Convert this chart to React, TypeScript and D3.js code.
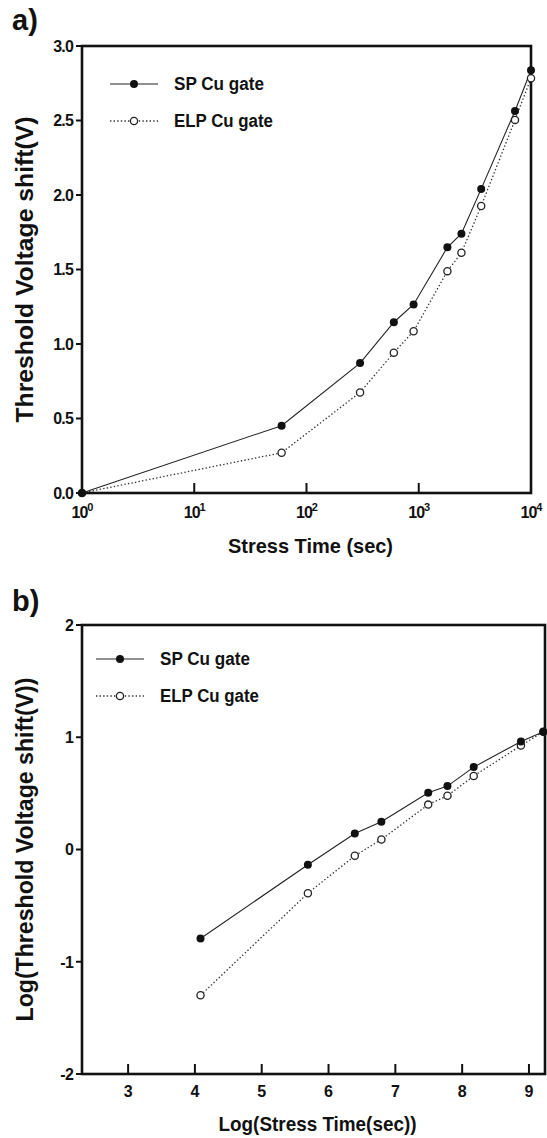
import React from "react";
import * as d3 from "d3";

// ---------- data ----------
const seriesNames = ["SP Cu gate", "ELP Cu gate"];

// panel a: stress time (sec) vs threshold voltage shift (V)
const aTimes = [1, 60, 300, 600, 900, 1800, 2400, 3600, 7200, 10000];
const aSP = [0, 0.452, 0.872, 1.146, 1.265, 1.649, 1.74, 2.041, 2.564, 2.837];
const aELP = [0, 0.27, 0.675, 0.942, 1.086, 1.489, 1.612, 1.926, 2.504, 2.784];
const aXTicks = [1, 10, 100, 1000, 10000];
const aXTickExp = ["0", "1", "2", "3", "4"];
const aYTicks = [0, 0.5, 1.0, 1.5, 2.0, 2.5, 3.0];

// panel b: log(stress time) vs log(threshold voltage shift)
const bLogTimes = [4.084, 5.691, 6.393, 6.791, 7.492, 7.78, 8.173, 8.88, 9.215];
const bSP = [-0.793, -0.136, 0.142, 0.248, 0.506, 0.565, 0.734, 0.962, 1.048];
const bELP = [-1.299, -0.39, -0.056, 0.089, 0.4, 0.479, 0.655, 0.926, 1.048];
const bXTicks = [3, 4, 5, 6, 7, 8, 9];
const bYTicks = [-2, -1, 0, 1, 2];

const FONT = "'Liberation Sans', Arial, Helvetica, sans-serif";
const INK = "#111";

type PanelProps = {
  letter: string;
  letterY: number;
  x0: number; x1: number; y0: number; y1: number;
  xScale: (v: number) => number;
  yScale: (v: number) => number;
  xTicks: number[];
  xTickLabel: (v: number, i: number) => React.ReactNode;
  yTicks: number[];
  yTickLabel: (v: number) => string;
  xs: number[];
  s1: number[];
  s2: number[];
  xTitle: string;
  xTitleLen: number;
  xTitleY: number;
  yTitle: string;
  yTitleLen: number;
  legendY: number;
  legendX: number;
};

function Panel(p: PanelProps) {
  const line = d3
    .line<[number, number]>()
    .x((d) => p.xScale(d[0]))
    .y((d) => p.yScale(d[1]));
  const pts1: [number, number][] = p.xs.map((x, i) => [x, p.s1[i]]);
  const pts2: [number, number][] = p.xs.map((x, i) => [x, p.s2[i]]);
  const cx = (p.x0 + p.x1) / 2;
  const cy = (p.y0 + p.y1) / 2;
  return (
    <g>
      <text x={12} y={p.letterY} fontFamily={FONT} fontWeight="bold" fontSize={29} fill={INK}>
        {p.letter}
      </text>
      {/* data lines */}
      <path d={line(pts2) || ""} fill="none" stroke="#333" strokeWidth={1.3} strokeDasharray="1.4,2.2" />
      <path d={line(pts1) || ""} fill="none" stroke="#222" strokeWidth={1.1} />
      {/* x ticks inward */}
      {p.xTicks.map((t, i) => (
        <g key={"xt" + i}>
          <line x1={p.xScale(t)} x2={p.xScale(t)} y1={p.y1} y2={p.y1 - 10} stroke={INK} strokeWidth={2} />
          {p.xTickLabel(t, i)}
        </g>
      ))}
      {/* y ticks outward */}
      {p.yTicks.map((t, i) => (
        <g key={"yt" + i}>
          <line x1={p.x0 - 6} x2={p.x0} y1={p.yScale(t)} y2={p.yScale(t)} stroke={INK} strokeWidth={2} />
          <text
            x={p.x0 - 9}
            y={p.yScale(t)}
            dy="0.36em"
            textAnchor="end"
            fontFamily={FONT}
            fontWeight="bold"
            fontSize={16}
            letterSpacing={-0.8}
            fill={INK}
          >
            {p.yTickLabel(t)}
          </text>
        </g>
      ))}
      {/* frame */}
      <rect x={p.x0} y={p.y0} width={p.x1 - p.x0} height={p.y1 - p.y0} fill="none" stroke={INK} strokeWidth={2.6} />
      {/* markers */}
      {pts2.map((d, i) => (
        <circle key={"m2" + i} cx={p.xScale(d[0])} cy={p.yScale(d[1])} r={3.6} fill="#fff" stroke="#222" strokeWidth={1.3} />
      ))}
      {pts1.map((d, i) => (
        <circle key={"m1" + i} cx={p.xScale(d[0])} cy={p.yScale(d[1])} r={4} fill="#111" />
      ))}
      {/* legend */}
      <g>
        <line x1={p.legendX} x2={p.legendX + 48} y1={p.legendY} y2={p.legendY} stroke="#222" strokeWidth={1.1} />
        <circle cx={p.legendX + 24} cy={p.legendY} r={4} fill="#111" />
        <text
          x={p.legendX + 64}
          y={p.legendY}
          dy="0.36em"
          fontFamily={FONT}
          fontWeight="bold"
          fontSize={18}
          textLength={90}
          lengthAdjust="spacingAndGlyphs"
          fill={INK}
        >
          {seriesNames[0]}
        </text>
        <line x1={p.legendX} x2={p.legendX + 48} y1={p.legendY + 37} y2={p.legendY + 37} stroke="#333" strokeWidth={1.3} strokeDasharray="1.4,2.2" />
        <circle cx={p.legendX + 24} cy={p.legendY + 37} r={3.6} fill="#fff" stroke="#222" strokeWidth={1.3} />
        <text
          x={p.legendX + 64}
          y={p.legendY + 37}
          dy="0.36em"
          fontFamily={FONT}
          fontWeight="bold"
          fontSize={18}
          textLength={99}
          lengthAdjust="spacingAndGlyphs"
          fill={INK}
        >
          {seriesNames[1]}
        </text>
      </g>
      {/* axis titles */}
      <text
        x={cx + 4}
        y={p.xTitleY}
        textAnchor="middle"
        fontFamily={FONT}
        fontWeight="bold"
        fontSize={21}
        textLength={p.xTitleLen}
        lengthAdjust="spacingAndGlyphs"
        fill={INK}
      >
        {p.xTitle}
      </text>
      <text
        transform={`translate(33,${cy}) rotate(-90)`}
        textAnchor="middle"
        fontFamily={FONT}
        fontWeight="bold"
        fontSize={23}
        textLength={p.yTitleLen}
        lengthAdjust="spacingAndGlyphs"
        fill={INK}
      >
        {p.yTitle}
      </text>
    </g>
  );
}

export default function App() {
  // panel a geometry
  const aX0 = 82, aX1 = 531, aY0 = 46, aY1 = 493;
  const axScale = d3.scaleLog().domain([1, 10000]).range([aX0, aX1]);
  const ayScale = d3.scaleLinear().domain([0, 3]).range([aY1, aY0]);

  // panel b geometry
  const bX0 = 82, bX1 = 545, bY0 = 625, bY1 = 1074;
  const bxScale = d3.scaleLinear().domain([2.31, 9.24]).range([bX0, bX1]);
  const byScale = d3.scaleLinear().domain([-2, 2]).range([bY1, bY0]);

  return (
    <svg
      width={547}
      height={1138}
      viewBox="0 0 547 1138"
      style={{ position: "absolute", left: 0, top: 0, background: "#fff" }}
    >
      <rect x={0} y={0} width={547} height={1138} fill="#fff" />
      <Panel
        letter="a)"
        letterY={30}
        x0={aX0} x1={aX1} y0={aY0} y1={aY1}
        xScale={axScale}
        yScale={ayScale}
        xTicks={aXTicks}
        xTickLabel={(t, i) => (
          <text x={axScale(t)} y={aY1 + 25} textAnchor="middle" fontFamily={FONT} fontWeight="bold" fontSize={16} letterSpacing={-1} fill={INK}>
            10
            <tspan dy={-7} fontSize={11}>{aXTickExp[i]}</tspan>
          </text>
        )}
        yTicks={aYTicks}
        yTickLabel={(t) => d3.format(".1f")(t)}
        xs={aTimes}
        s1={aSP}
        s2={aELP}
        xTitle="Stress Time (sec)"
        xTitleLen={165}
        xTitleY={aY1 + 60}
        yTitle="Threshold Voltage shift(V)"
        yTitleLen={306}
        legendX={110}
        legendY={84}
      />
      <Panel
        letter="b)"
        letterY={611}
        x0={bX0} x1={bX1} y0={bY0} y1={bY1}
        xScale={bxScale}
        yScale={byScale}
        xTicks={bXTicks}
        xTickLabel={(t) => (
          <text x={bxScale(t)} y={bY1 + 23} textAnchor="middle" fontFamily={FONT} fontWeight="bold" fontSize={16} fill={INK}>
            {String(t)}
          </text>
        )}
        yTicks={bYTicks}
        yTickLabel={(t) => String(t)}
        xs={bLogTimes}
        s1={bSP}
        s2={bELP}
        xTitle="Log(Stress Time(sec))"
        xTitleLen={198}
        xTitleY={bY1 + 57}
        yTitle="Log(Threshold Voltage shift(V))"
        yTitleLen={344}
        legendX={96}
        legendY={659}
      />
    </svg>
  );
}
